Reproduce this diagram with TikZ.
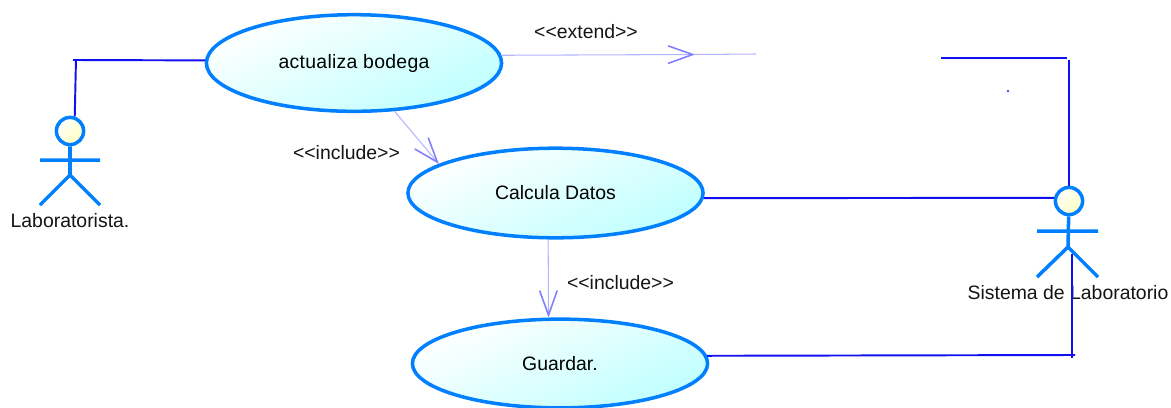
\documentclass[tikz,border=0pt]{standalone}
\usepackage{fontspec}
\setmainfont{Liberation Sans}
\usetikzlibrary{arrows.meta,shapes.geometric}
\definecolor{umlblue}{HTML}{0080FF}
\definecolor{wireblue}{HTML}{1010F0}
\definecolor{deplight}{HTML}{B4B4FF}
\definecolor{deptip}{HTML}{8080FF}
\tikzset{
  usecase/.style={ellipse,draw=umlblue,line width=2pt,minimum width=168pt,minimum height=51pt,inner sep=0pt,
    shading=axis,top color=white,bottom color=cyan!25,shading angle=25,font=\fontsize{11.05}{13}\selectfont},
  head/.style={circle,draw=umlblue,line width=2pt,minimum size=15.5pt,inner sep=0pt,
    shading=axis,top color=white,bottom color=yellow!25,shading angle=45},
  limb/.style={draw=umlblue,line width=2pt},
  wire/.style={draw=wireblue,line width=1.1pt},
  dep/.style={draw=deplight,line width=.6pt},
  lbl/.style={inner sep=0pt,text=black!92,font=\fontsize{11.05}{13}\selectfont}
}
\begin{document}
\begin{tikzpicture}[x=0.02cm,y=-0.02cm,>={Straight Barb[length=14pt,width=10pt,line width=.9pt,color=deptip]}]
  \useasboundingbox (0,0) rectangle (1171,407);

  % Use cases
  \node[usecase,minimum height=55pt] (bodega) at (354,63) {\addfontfeature{LetterSpace=1.5}actualiza bodega};
  \node[usecase] (calcula) at (555.5,193) {Calcula Datos};
  \node[usecase,minimum height=50.5pt] (guardar) at (560,363.5) {Guardar.};

  % Actors
  \node[head] (head1) at (70,131) {};
  \node[head] (head2) at (1069,201) {};
  \draw[limb] (head1) -- (70,175) (40,160) -- (100,160) (40,205) -- (70,175) -- (100,205);
  \draw[limb] (head2) -- (1068,247) (1037,231) -- (1098,231) (1037,277) -- (1068,247) -- (1098,277);
  \node[lbl] (lab1) at (70,221) {Laboratorista.};
  \node[lbl] (lab2) at (1068,293) {Sistema de Laboratorio};

  % Free ends
  \coordinate (tick1) at (73,60);
  \coordinate (up1) at (76,59);
  \coordinate (open1) at (941,58);
  \coordinate (open2) at (1067,58);
  \coordinate (corner2) at (1069,60);
  \coordinate (low1) at (1072,254);
  \coordinate (low2) at (1072,358);
  \coordinate (low3) at (1075,355);
  \coordinate (tip) at (695,54.5);
  \coordinate (free) at (756,54);

  % Lines to the actors
  \draw[wire] (bodega.179) -- (tick1);
  \draw[wire] (up1) -- (head1.72);
  \draw[wire] (open1) -- (open2);
  \draw[wire] (corner2) -- (head2.north);
  \draw[wire] (calcula.-2) -- (head2.168);
  \draw[wire] (guardar.3) -- (low3);
  \draw[wire] (low1) -- (low2);
  \node[circle,fill=wireblue,inner sep=0pt,minimum size=1.2pt] (dot) at (1008,91) {};

  % Dependencies
  \draw[dep,->] (bodega.3) -- (tip);
  \draw[dep] (tip) -- (free);
  \draw[dep,->] (bodega.-50) -- (calcula.166);
  \draw[dep,->] (calcula.-99.5) -- (guardar.104);

  % Stereotypes
  \node[lbl] (ext) at (586,32) {<{}<extend>{}>};
  \node[lbl] (inc1) at (346.5,153) {<{}<include>{}>};
  \node[lbl] (inc2) at (620.5,283) {<{}<include>{}>};
\end{tikzpicture}
\end{document}
